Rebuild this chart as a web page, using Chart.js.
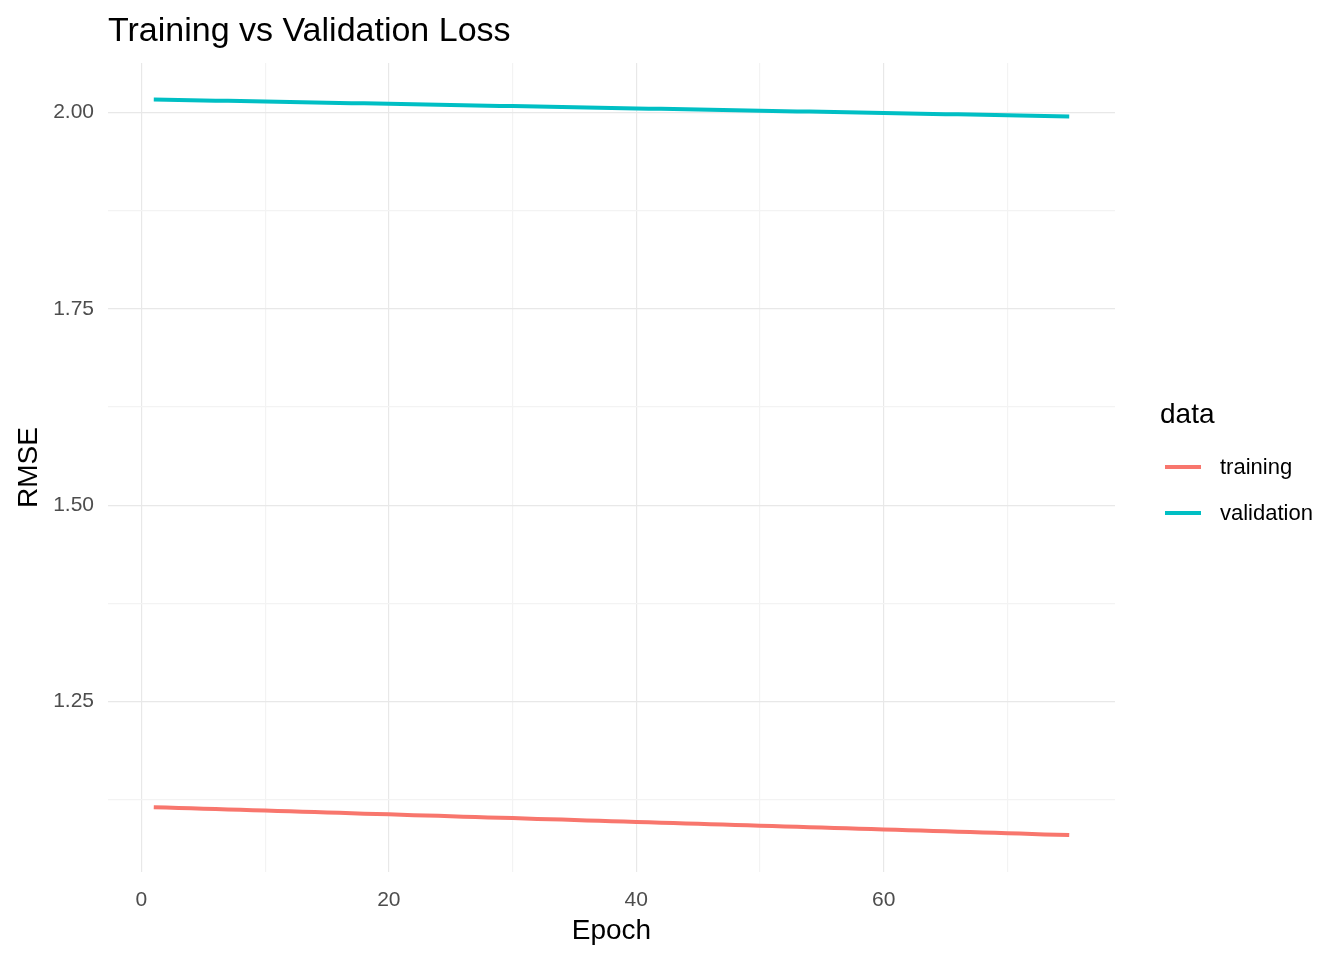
<!DOCTYPE html>
<html><head><meta charset="utf-8">
<script src="https://cdn.jsdelivr.net/npm/chart.js@4"></script>
<style>
html,body{margin:0;padding:0;background:#fff;font-family:Arial,"Liberation Sans",sans-serif}
#wrap{position:relative;width:1344px;height:960px}
#title{position:absolute;left:108px;top:10px;font-size:34px;color:#000}
#leg{position:absolute;left:1160px;top:398px;color:#000}
.item{position:absolute;left:5px;width:200px;height:24px;font-size:22px}
.sw{position:absolute;left:0;top:11px;width:36px;height:4px}
.lt{position:absolute;left:55px;top:0}
</style></head><body>
<div id="wrap">
<canvas id="c" width="1344" height="960"></canvas>
<div id="title">Training vs Validation Loss</div>
<div id="leg">
<div style="font-size:28px;position:absolute;left:0;top:0">data</div>
<div class="item" style="top:56px"><div class="sw" style="background:#F8766D"></div><div class="lt">training</div></div>
<div class="item" style="top:102px"><div class="sw" style="background:#00BFC4"></div><div class="lt">validation</div></div>
</div>
</div>
<script>
const epochs=[1,2,3,4,5,6,7,8,9,10,11,12,13,14,15,16,17,18,19,20,21,22,23,24,25,26,27,28,29,30,31,32,33,34,35,36,37,38,39,40,41,42,43,44,45,46,47,48,49,50,51,52,53,54,55,56,57,58,59,60,61,62,63,64,65,66,67,68,69,70,71,72,73,74,75];
const training=[1.1155,1.1150,1.1145,1.1141,1.1136,1.1131,1.1126,1.1121,1.1117,1.1112,
1.1107,1.1102,1.1097,1.1093,1.1088,1.1083,1.1078,1.1073,1.1069,1.1064,
1.1059,1.1054,1.1049,1.1045,1.1040,1.1035,1.1030,1.1025,1.1021,1.1016,
1.1011,1.1006,1.1001,1.0997,1.0992,1.0987,1.0982,1.0977,1.0973,1.0968,
1.0963,1.0958,1.0953,1.0949,1.0944,1.0939,1.0934,1.0929,1.0925,1.0920,
1.0915,1.0910,1.0905,1.0901,1.0896,1.0891,1.0886,1.0881,1.0877,1.0872,
1.0867,1.0862,1.0857,1.0853,1.0848,1.0843,1.0838,1.0833,1.0829,1.0824,
1.0819,1.0814,1.0809,1.0805,1.0800];
const validation=[2.0165,2.0162,2.0159,2.0156,2.0153,2.0150,2.0148,2.0145,2.0142,2.0139,
2.0136,2.0133,2.0130,2.0127,2.0124,2.0121,2.0119,2.0116,2.0113,2.0110,
2.0107,2.0104,2.0101,2.0098,2.0095,2.0092,2.0090,2.0087,2.0084,2.0081,
2.0078,2.0075,2.0072,2.0069,2.0066,2.0063,2.0061,2.0058,2.0055,2.0052,
2.0049,2.0046,2.0043,2.0040,2.0037,2.0034,2.0032,2.0029,2.0026,2.0023,
2.0020,2.0017,2.0014,2.0011,2.0008,2.0005,2.0003,2.0000,1.9997,1.9994,
1.9991,1.9988,1.9985,1.9982,1.9979,1.9976,1.9974,1.9971,1.9968,1.9965,
1.9962,1.9959,1.9956,1.9953,1.9950];
const xTicks=[0,10,20,30,40,50,60,70];
const xLabels=[0,20,40,60];
const yTicks=[1.125,1.25,1.375,1.5,1.625,1.75,1.875,2.0];
const yLabels=[1.25,1.5,1.75,2.0];
const pts=a=>epochs.map((e,i)=>({x:e,y:a[i]}));
new Chart(document.getElementById('c'),{
type:'line',
data:{datasets:[
{label:'training',data:pts(training),borderColor:'#F8766D',borderWidth:4,pointRadius:0,tension:0},
{label:'validation',data:pts(validation),borderColor:'#00BFC4',borderWidth:4,pointRadius:0,tension:0}]},
options:{responsive:false,animation:false,
layout:{padding:{top:63,right:229,left:0,bottom:0}},
plugins:{legend:{display:false},tooltip:{enabled:false}},
scales:{
x:{type:'linear',min:-2.7,max:78.7,
afterBuildTicks:s=>{s.ticks=xTicks.map(v=>({value:v}));},
afterFit:s=>{s.height=88;},
border:{display:false},
grid:{color:c=>xLabels.includes(c.tick&&c.tick.value)?'#e8e8e8':'#f3f3f3',lineWidth:1.2,drawTicks:false},
ticks:{padding:16,color:'#4d4d4d',font:{size:21,family:'Arial'},callback:v=>xLabels.includes(v)?String(v):''},
title:{display:true,text:'Epoch',color:'#000',font:{size:28,family:'Arial'},padding:{top:0,bottom:12}}},
y:{type:'linear',min:1.033,max:2.063,
afterBuildTicks:s=>{s.ticks=yTicks.map(v=>({value:v}));},
afterFit:s=>{s.width=108;},
border:{display:false},
grid:{color:c=>yLabels.includes(c.tick&&c.tick.value)?'#e8e8e8':'#f3f3f3',lineWidth:1.2,drawTicks:false},
ticks:{padding:14,color:'#4d4d4d',font:{size:21,family:'Arial'},callback:v=>yLabels.includes(v)?v.toFixed(2):''},
title:{display:true,text:'RMSE',color:'#000',font:{size:28,family:'Arial'},padding:{top:12,bottom:4}}}
}}});
</script></body></html>
